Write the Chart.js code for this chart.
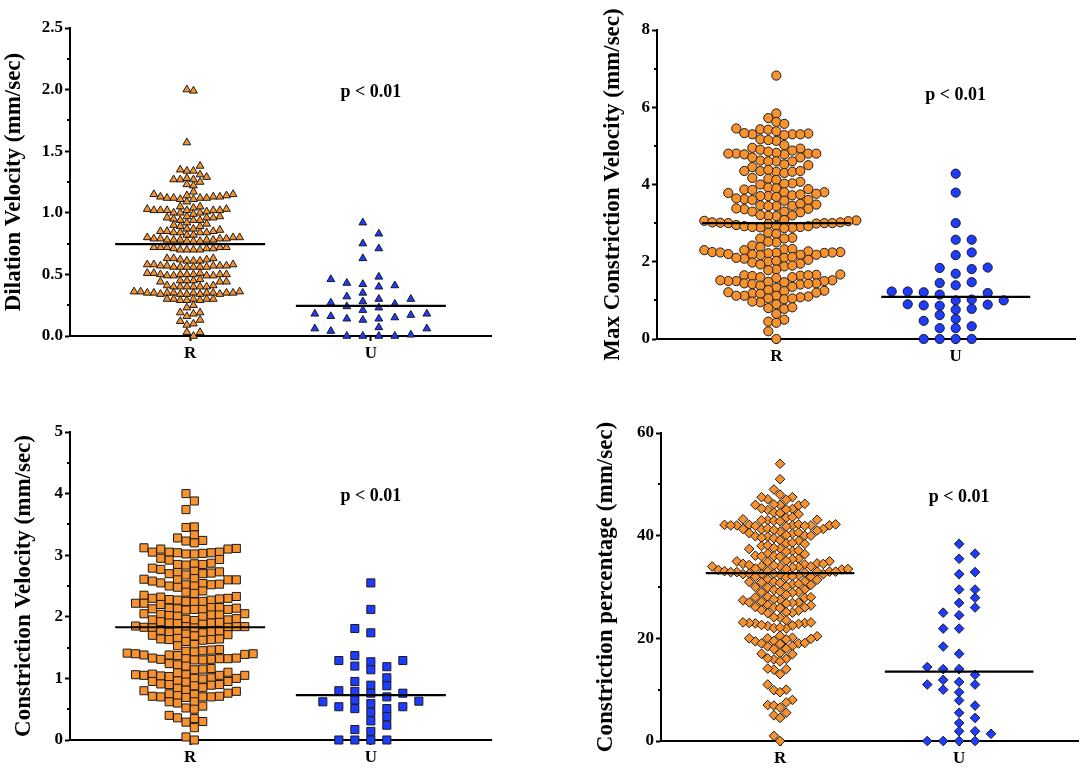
<!DOCTYPE html>
<html>
<head>
<meta charset="utf-8">
<script src="https://cdn.jsdelivr.net/npm/chart.js@4/dist/chart.umd.min.js"></script>
<style>
  body { margin: 0; background: #fff; width: 1084px; height: 768px; overflow: hidden; position: relative; }
  canvas { position: absolute; }
</style>
</head>
<body>
<canvas id="dilation"></canvas>
<canvas id="maxConstriction"></canvas>
<canvas id="constriction"></canvas>
<canvas id="constrictionPct"></canvas>
<script>
const groups = ['R', 'U'];
const pLabel = 'p < 0.01';

// Dilation velocity (mm/sec)
const dilationR = [
  2.0, 1.99, 1.57,
  1.34, 1.35, 1.38, 1.34,
  1.27, 1.29, 1.27, 1.22, 1.23, 1.25, 1.31, 1.28, 1.27,
  1.15, 1.15, 1.17, 1.09, 1.12, 1.13, 1.11, 1.14, 1.12, 1.13, 1.11, 1.12, 1.14, 1.13, 1.12,
  1.02, 1.02, 1.0, 1.02, 1.05, 1.0, 1.02, 1.03, 1.04, 1.03, 1.02, 1.02, 1.01, 1.0, 1.05, 0.96,
  0.96, 0.97, 0.94, 0.97, 0.99, 0.96, 0.94, 0.94, 0.95,
  0.91, 0.89, 0.9, 0.92, 0.89, 0.87,
  0.86, 0.84, 0.85, 0.82, 0.82, 0.85, 0.84, 0.84, 0.87, 0.85, 0.84,
  0.79, 0.78, 0.78, 0.79, 0.77, 0.77, 0.79, 0.79, 0.8, 0.8, 0.78, 0.78, 0.8, 0.77, 0.78,
  0.71, 0.70, 0.72, 0.7, 0.7, 0.72, 0.71, 0.72, 0.7, 0.72, 0.71, 0.72,
  0.62, 0.63, 0.61, 0.63, 0.61, 0.62, 0.63, 0.61,
  0.57, 0.58, 0.56, 0.56, 0.56, 0.57, 0.56, 0.57, 0.58, 0.56, 0.57, 0.58, 0.57, 0.56,
  0.51, 0.50, 0.50, 0.49, 0.5, 0.5, 0.49, 0.49, 0.51, 0.49, 0.5, 0.50, 0.51,
  0.45, 0.44, 0.45, 0.44, 0.45, 0.46, 0.44,
  0.4, 0.4, 0.40, 0.41, 0.40, 0.41, 0.4, 0.4,
  0.35, 0.35, 0.34, 0.35, 0.36, 0.35, 0.35, 0.35, 0.34, 0.36, 0.35, 0.35, 0.34, 0.36, 0.34, 0.35, 0.34,
  0.3, 0.29, 0.3, 0.30, 0.3, 0.3, 0.29, 0.29,
  0.23, 0.25, 0.19, 0.16, 0.18, 0.19,
  0.12, 0.1, 0.13, 0.09, 0.03, 0.03, 0.0
];
const dilationU = [
  0.92, 0.83, 0.75, 0.71, 0.63, 0.46, 0.48, 0.43, 0.40, 0.42, 0.41, 0.35,
  0.26, 0.27, 0.28, 0.30, 0.30, 0.32, 0.24, 0.23, 0.21, 0.16, 0.18, 0.18,
  0.17, 0.15, 0.14, 0.14, 0.13, 0.06, 0.06, 0.07, 0.04, 0.0, 0.01, 0.0, 0.0, 0.0
];
const dilationMeans = [0.745, 0.245];
const dilationTicks = [0, 0.5, 1.0, 1.5, 2.0, 2.5];
const dilationMinor = [0.25, 0.75, 1.25, 1.75, 2.25];

// Max constriction velocity (mm/sec)
const maxConR = [
  6.82, 5.84, 5.72, 5.62, 5.57,
  5.43, 5.45, 5.42, 5.38, 5.32, 5.30, 5.30, 5.28, 5.30, 5.33, 5.17, 5.13, 5.15,
  4.93, 4.95, 4.88, 4.90, 5.02,
  4.80, 4.78, 4.82, 4.80, 4.85, 4.78, 4.70, 4.80, 4.80,
  4.60, 4.62, 4.70, 4.60, 4.45, 4.60, 4.50, 4.52,
  4.35, 4.33, 4.30, 4.33, 4.35, 4.35, 4.38,
  4.15, 4.17, 4.07, 4.00, 4.12, 4.03, 3.92, 4.02,
  3.87, 3.88, 3.86, 3.90, 3.80, 3.78, 3.80, 3.76,
  3.70, 3.68, 3.72, 3.74, 3.70, 3.58, 3.62, 3.60, 3.64, 3.60,
  3.45, 3.48, 3.44, 3.46, 3.50, 3.44, 3.36, 3.37, 3.38, 3.28, 3.30, 3.30,
  3.18, 3.20, 3.19, 3.21, 3.07, 3.08, 3.05, 3.06,
  3.00, 2.98, 3.02, 3.00, 3.01, 2.99, 3.00, 3.02, 2.93, 2.95,
  2.90, 2.88, 2.89, 2.92, 2.87, 2.92, 2.90,
  2.75, 2.72, 2.62, 2.60, 2.60, 2.50, 2.52, 2.42, 2.38,
  2.30, 2.32, 2.30, 2.33, 2.25, 2.24, 2.23, 2.25, 2.24, 2.23, 2.22, 2.27,
  2.18, 2.20, 2.18, 2.17, 2.19, 2.10, 2.08, 2.12, 2.10, 2.05,
  2.00, 1.98, 2.02, 1.95, 1.93, 1.88, 1.90, 1.80, 1.78,
  1.66, 1.65, 1.67, 1.64, 1.63, 1.65, 1.60, 1.58, 1.60,
  1.50, 1.52, 1.50, 1.48, 1.50, 1.52, 1.47, 1.44, 1.42, 1.44, 1.41, 1.43,
  1.35, 1.33, 1.38, 1.25, 1.27, 1.24, 1.20, 1.18, 1.21, 1.17,
  1.12, 1.10, 1.08, 1.12, 1.12, 1.05, 1.03, 1.05,
  0.95, 0.97, 0.90, 0.80, 0.78, 0.82, 0.65, 0.50, 0.45, 0.42, 0.20, 0.0
];
const maxConU = [
  4.28, 3.79, 3.0, 2.57, 2.57, 2.17, 2.24, 1.85, 1.81, 1.84, 1.69, 1.45, 1.47,
  1.39, 1.21, 1.19, 1.23, 1.23, 1.15, 1.0, 1.02, 1.0, 0.9, 0.87, 0.89, 0.86,
  0.76, 0.78, 0.62, 0.52, 0.47, 0.28, 0.33, 0.28, 0, 0, 0, 0
];
const maxConMeans = [3.0, 1.09];
const maxConTicks = [0, 2, 4, 6, 8];
const maxConMinor = [1, 3, 5, 7];

// Constriction velocity (mm/sec)
const conR = [
  4.0, 3.88, 3.74, 3.45, 3.46, 3.33, 3.28, 3.24, 3.23, 3.20,
  3.10, 3.12, 3.11, 3.10, 3.05, 3.04, 3.02, 3.05, 3.03, 3.04, 3.05, 3.02,
  2.93, 2.95, 2.92, 2.85, 2.84, 2.86, 2.85, 2.87, 2.79, 2.77,
  2.73, 2.70, 2.72, 2.74, 2.70, 2.71, 2.68, 2.60, 2.62, 2.58, 2.60, 2.61, 2.60,
  2.52, 2.50, 2.54, 2.55, 2.48, 2.50, 2.53, 2.52, 2.40, 2.38, 2.42,
  2.30, 2.28, 2.32, 2.33, 2.27, 2.30, 2.29, 2.35, 2.25, 2.22, 2.20, 2.25, 2.22, 2.24, 2.27,
  2.14, 2.12, 2.15, 2.13, 2.12, 2.14, 2.13, 2.15, 2.12, 2.11,
  2.03, 2.02, 2.05, 2.00, 2.04, 2.01, 2.03, 2.05, 1.96, 1.95, 1.97, 1.94, 1.95,
  1.90, 1.91, 1.89, 1.92, 1.90, 1.88, 1.84, 1.83, 1.82, 1.85, 1.84, 1.82, 1.83, 1.84,
  1.77, 1.75, 1.78, 1.76, 1.74, 1.77, 1.70, 1.71, 1.69, 1.72,
  1.63, 1.65, 1.62, 1.64, 1.63, 1.60, 1.64, 1.55, 1.53,
  1.47, 1.45, 1.46, 1.44, 1.43, 1.40, 1.38, 1.39, 1.41, 1.38, 1.40, 1.37,
  1.32, 1.31, 1.33, 1.30, 1.32, 1.31, 1.30, 1.32, 1.33, 1.24, 1.22, 1.20, 1.16, 1.15, 1.14, 1.10, 1.09,
  1.05, 1.06, 1.04, 1.05, 1.06, 1.03, 1.07, 1.05, 1.00, 1.01, 0.99, 1.00, 0.95, 0.94, 0.96, 0.95,
  0.90, 0.91, 0.89, 0.90, 0.88, 0.85, 0.84, 0.81, 0.80, 0.79, 0.75, 0.76, 0.74,
  0.71, 0.70, 0.72, 0.70, 0.71, 0.69, 0.70, 0.62, 0.60, 0.62,
  0.55, 0.52, 0.50, 0.40, 0.36, 0.35, 0.29, 0.30, 0.20, 0.05, 0.0
];
const conU = [
  2.55, 2.12, 1.74, 1.81, 1.37, 1.29, 1.27, 1.29, 1.20, 1.19, 1.14, 1.01, 0.88,
  0.95, 0.89, 0.80, 0.79, 0.70, 0.76, 0.76, 0.63, 0.65, 0.62, 0.54, 0.54, 0.59,
  0.51, 0.51, 0.45, 0.38, 0.31, 0.24, 0.14, 0.17, 0, 0, 0, 0
];
const conMeans = [1.83, 0.73];
const conTicks = [0, 1, 2, 3, 4, 5];
const conMinor = [0.5, 1.5, 2.5, 3.5, 4.5];

// Constriction percentage
const pctR = [
  54.0, 51.0, 49.0, 48.0, 47.5, 47.1, 47.5, 47.0,
  46.0, 46.1, 45.9, 46.0, 46.2, 45.2, 45.0, 45.3, 45.1, 44.2, 44.5, 44.4, 43.5, 43.6,
  43.0, 43.1, 42.9, 43.0, 43.2, 42.8,
  42.0, 42.1, 41.9, 42.0, 42.2, 42.0, 41.8, 42.1, 42.0, 41.9, 42.2, 42.0,
  41.3, 41.2, 41.4, 41.3, 41.0, 40.8, 41.1, 40.5, 40.4, 40.6,
  40.0, 39.9, 40.1, 40.0, 39.8, 39.6, 39.5, 39.0, 39.1, 38.5, 38.4, 38.6, 38.0, 38.1,
  37.5, 37.4, 37.6, 37.0, 36.9, 37.1, 36.5, 36.4, 36.0, 35.9, 36.1, 36.0, 35.5, 35.4,
  35.0, 34.9, 35.1, 35.0, 34.5, 34.4, 34.6, 34.5, 34.3,
  34.0, 33.9, 34.1, 34.0, 33.8, 34.0, 34.2, 33.5, 33.4, 33.6, 33.5, 33.3,
  33.0, 32.9, 33.1, 33.0, 32.8, 33.0, 33.1, 32.9, 32.5, 32.4, 32.6, 32.5, 32.3, 32.5, 32.6,
  32.0, 31.9, 32.1, 32.0, 31.5, 31.4, 31.0, 30.9, 31.1, 31.0, 30.8, 30.5, 30.4, 30.6,
  30.0, 29.9, 30.1, 29.5, 29.4, 29.0, 28.9, 29.1, 29.0, 28.5, 28.0, 27.9, 28.1, 28.0,
  27.5, 27.4, 27.6, 27.0, 26.9, 27.1, 27.0, 26.8, 26.5, 26.4, 26.0, 25.9, 26.1, 26.0,
  25.5, 25.4, 25.0, 24.9, 25.1, 24.0, 24.1, 23.5,
  23.0, 22.9, 23.1, 23.0, 22.8, 23.1, 22.5, 22.4, 22.6, 22.0, 21.9, 22.1,
  20.5, 20.4, 20.0, 19.9, 20.1, 20.0, 19.8, 19.5, 19.4, 19.0, 18.9, 19.1, 19.0,
  18.5, 18.4, 18.0, 17.9, 17.0, 16.9, 17.1, 16.0, 15.9, 16.1, 15.5,
  14.0, 13.9, 14.1, 13.0, 11.0, 10.0, 9.9, 9.5, 8.0, 7.5, 7.0, 6.9, 6.5,
  5.5, 5.0, 4.5, 1.0, 0.0
];
const pctU = [
  38.4, 36.5, 35.5, 32.9, 32.5, 29.5, 29.5, 27.9, 26.9, 26.0, 25.0, 24.5, 21.9,
  21.9, 18.4, 17.0, 14.4, 14.0, 14.0, 12.9, 11.9, 11.5, 11.0, 11.0, 10.0, 9.5,
  7.9, 6.9, 5.5, 4.5, 3.5, 1.4, 1.9, 1.9, 0, 0, 0, 0
];
const pctMeans = [32.7, 13.5];
const pctTicks = [0, 20, 40, 60];
const pctMinor = [10, 30, 50];

const ORANGE = '#f7922e';
const BLUE = '#1e3cff';
const EDGE = '#1a1a1a';
const FONT = "'Liberation Serif', 'Times New Roman', serif";
const X_MIN = 0.335, X_MAX = 2.665;
const HALF_LINE = 0.415;

// scatter-dot layout: each point takes the nearest free slot on a lattice
// (step px, half-slot phase); slots clash within sx px across and sy px up/down
function swarm(values, center, pxX, pxY, lay) {
  const { step, phase, sx, sy } = lay;
  const order = values.map((v, i) => i).sort((a, b) => values[a] - values[b]);
  const placed = [];
  const out = new Array(values.length);
  let flip = 1;
  for (const i of order) {
    const y = values[i] * pxY;
    let x = 0;
    for (let k = 0; k < 60; k++) {
      const mag = (k + phase) * step;
      const tries = mag === 0 ? [0] : [flip * mag, -flip * mag];
      const hit = tries.find(c => !placed.some(p => Math.abs(p.x - c) < sx - 0.01 && Math.abs(p.y - y) < sy));
      if (hit !== undefined) { x = hit; break; }
    }
    flip = -flip;
    placed.push({ x, y });
    out[i] = { x: center + x / pxX, y: values[i] };
  }
  return out;
}

const extrasPlugin = {
  id: 'extras',
  afterDraw(chart, args, opts) {
    const { ctx, scales } = chart;
    const y = scales.y;
    ctx.save();
    ctx.strokeStyle = '#000';
    ctx.lineWidth = 2;
    opts.minor.forEach(v => {
      const py = Math.round(y.getPixelForValue(v));
      ctx.beginPath();
      ctx.moveTo(y.right - 3, py);
      ctx.lineTo(y.right, py);
      ctx.stroke();
    });
    ctx.fillStyle = '#000';
    ctx.font = 'bold 18px ' + FONT;
    ctx.textAlign = 'center';
    ctx.textBaseline = 'middle';
    ctx.fillText(pLabel, scales.x.getPixelForValue(2), y.getPixelForValue(opts.pAt));
    ctx.restore();
  }
};

function makePanel(p) {
  const canvas = document.getElementById(p.id);
  canvas.width = p.width;
  canvas.height = p.height;
  canvas.style.left = p.left + 'px';
  canvas.style.top = p.top + 'px';

  const areaW = p.width - p.axisW - p.padRight;
  const areaH = p.height - p.padTop - p.xAxisH;
  const pxX = areaW / (X_MAX - X_MIN);
  const pxY = areaH / p.ticks[p.ticks.length - 1];

  const meanLine = (c, m) => ({
    type: 'line', data: [{ x: c - HALF_LINE, y: m }, { x: c + HALF_LINE, y: m }],
    borderColor: '#000', borderWidth: 2.2, pointRadius: 0, order: 0, clip: false
  });
  const pts = (vals, c, color, lay) => ({
    type: 'scatter', data: swarm(vals, c, pxX, pxY, lay),
    pointStyle: p.style, pointRadius: p.radius, pointHoverRadius: p.radius,
    backgroundColor: color, borderColor: EDGE, borderWidth: 1, order: 1, clip: false
  });

  const tickFont = { family: FONT, size: 17, weight: 'bold' };

  new Chart(canvas, {
    data: {
      datasets: [
        pts(p.r, 1, ORANGE, p.layR),
        pts(p.u, 2, BLUE, p.layU),
        meanLine(1, p.means[0]),
        meanLine(2, p.means[1])
      ]
    },
    options: {
      responsive: false,
      animation: false,
      devicePixelRatio: 1,
      layout: { padding: { top: p.padTop, right: p.padRight, left: 0, bottom: 0 } },
      plugins: {
        legend: { display: false },
        tooltip: { enabled: false },
        extras: { minor: p.minor, pAt: p.pAt }
      },
      scales: {
        x: {
          type: 'linear', min: X_MIN, max: X_MAX,
          afterBuildTicks: s => { s.ticks = groups.map((g, i) => ({ value: i + 1 })); },
          afterFit: s => { s.height = p.xAxisH; },
          ticks: { autoSkip: false, maxRotation: 0, padding: 2, color: '#000', font: tickFont,
                   callback: v => groups[v - 1] },
          grid: { drawOnChartArea: false, drawTicks: true, tickLength: 5, tickWidth: 2, tickColor: '#000' },
          border: { display: true, color: '#000', width: 2 }
        },
        y: {
          type: 'linear', min: 0, max: p.ticks[p.ticks.length - 1],
          afterBuildTicks: s => { s.ticks = p.ticks.map(v => ({ value: v })); },
          afterFit: s => { s.width = p.axisW; },
          ticks: { autoSkip: false, padding: 2, color: '#000', font: tickFont,
                   callback: v => v.toFixed(p.decimals) },
          grid: { drawOnChartArea: false, drawTicks: true, tickLength: 5, tickWidth: 2, tickColor: '#000' },
          border: { display: true, color: '#000', width: 2 },
          title: { display: true, text: p.title, color: '#000', padding: { top: 0, bottom: 0 },
                   font: { family: FONT, size: 23, weight: 'bold', lineHeight: 1.2 } }
        }
      }
    },
    plugins: [extrasPlugin]
  });
}

makePanel({
  id: 'dilation', left: 0, top: 0, width: 500, height: 380,
  axisW: 70, padTop: 28, padRight: 9, xAxisH: 44,
  r: dilationR, u: dilationU, means: dilationMeans, ticks: dilationTicks, minor: dilationMinor,
  decimals: 1, title: 'Dilation Velocity (mm/sec)', pAt: 1.98,
  style: 'triangle', radius: 4.5,
  layR: { step: 6.6, phase: 0.5, sx: 6.6, sy: 5.8 },
  layU: { step: 16, phase: 0.5, sx: 16, sy: 8 }
});
makePanel({
  id: 'maxConstriction', left: 599, top: 0, width: 485, height: 384,
  axisW: 58, padTop: 30, padRight: 9, xAxisH: 45,
  r: maxConR, u: maxConU, means: maxConMeans, ticks: maxConTicks, minor: maxConMinor,
  decimals: 0, title: 'Max Constriction Velocity (mm/sec)', pAt: 6.32,
  style: 'circle', radius: 4.6,
  layR: { step: 8, phase: 0, sx: 8, sy: 8 },
  layU: { step: 8, phase: 0, sx: 16, sy: 9 }
});
makePanel({
  id: 'constriction', left: 10, top: 400, width: 490, height: 368,
  axisW: 60, padTop: 32, padRight: 9, xAxisH: 28,
  r: conR, u: conU, means: conMeans, ticks: conTicks, minor: conMinor,
  decimals: 0, title: 'Constriction Velocity (mm/sec)', pAt: 3.96,
  style: 'rect', radius: 5.7,
  layR: { step: 8.4, phase: 0.5, sx: 8.4, sy: 7 },
  layU: { step: 16, phase: 0, sx: 16, sy: 8 }
});
makePanel({
  id: 'constrictionPct', left: 592, top: 400, width: 492, height: 368,
  axisW: 69, padTop: 33, padRight: 4, xAxisH: 27,
  r: pctR, u: pctU, means: pctMeans, ticks: pctTicks, minor: pctMinor,
  decimals: 0, title: 'Constriction percentage (mm/sec)', pAt: 47.5,
  style: 'rectRot', radius: 4.8,
  layR: { step: 6.2, phase: 0, sx: 6.2, sy: 8 },
  layU: { step: 8, phase: 0, sx: 16, sy: 8 }
});
</script>
</body>
</html>
